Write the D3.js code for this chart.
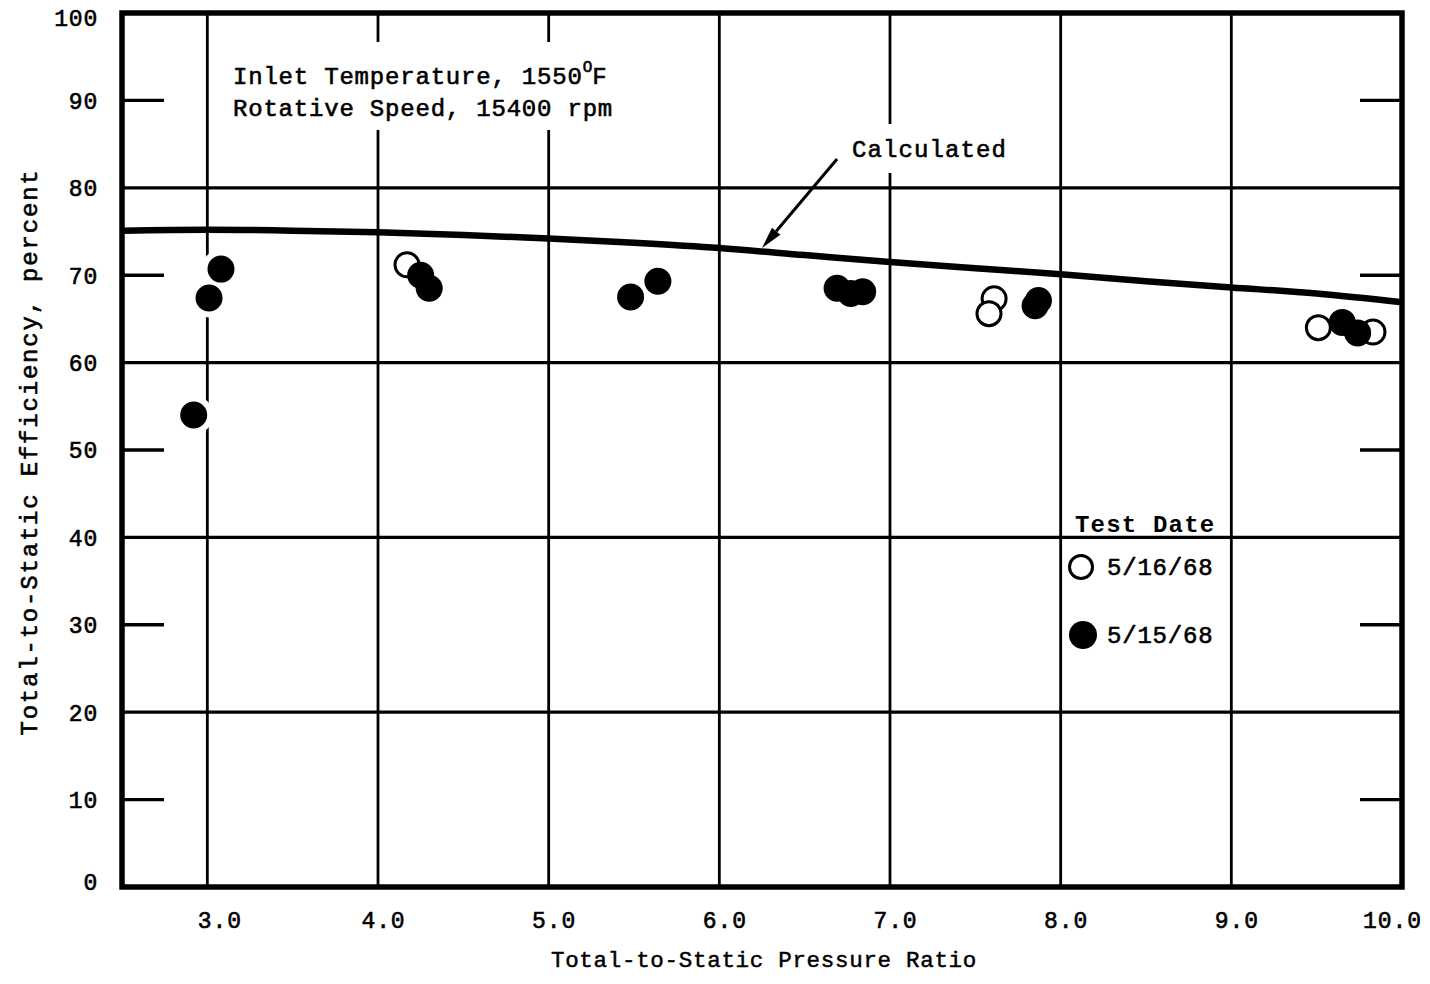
<!DOCTYPE html>
<html>
<head>
<meta charset="utf-8">
<script src="https://cdn.jsdelivr.net/npm/d3@7"></script>
<style>
  body { margin: 0; background: #fff; }
  svg { display: block; }
  text { font-family: "Liberation Mono", "DejaVu Sans Mono", monospace; fill: #000; }
</style>
</head>
<body>
<svg id="chart" width="1430" height="984"></svg>
<script>
// Calculated total-to-static efficiency curve
const calcRatio = [2.5, 3.0, 3.5, 4.0, 4.5, 5.0, 5.5, 6.0, 6.5, 7.0, 7.5, 8.0, 8.5, 9.0, 9.5, 10.0];
const calcEff   = [75.1, 75.2, 75.1, 74.9, 74.6, 74.2, 73.7, 73.1, 72.3, 71.5, 70.8, 70.1, 69.3, 68.6, 67.9, 66.9];

// Test points, 5/16/68 (open symbols)
const openRatio = [4.17, 7.61, 7.58, 9.51, 9.83];
const openEff   = [71.2, 67.3, 65.6, 64.0, 63.5];

// Test points, 5/15/68 (solid symbols)
const solidRatio = [2.92, 3.01, 3.08, 4.25, 4.30, 5.48, 5.64, 6.69, 6.77, 6.84, 7.85, 7.87, 9.65, 9.74];
const solidEff   = [54.0, 67.4, 70.7, 70.0, 68.5, 67.5, 69.3, 68.5, 67.9, 68.1, 66.5, 67.1, 64.6, 63.4];

// Axis ticks
const xTicks = [3, 4, 5, 6, 7, 8, 9, 10];
const yTicks = [0, 10, 20, 30, 40, 50, 60, 70, 80, 90, 100];
const yRules = [20, 40, 60, 80];         // full-width rules
const yEdgeTicks = [10, 30, 50, 70, 90]; // short marks at both edges

const legendLabels = ["5/16/68", "5/15/68"];

const svg = d3.select("#chart");
const x = d3.scaleLinear().domain([2.5, 10]).range([122, 1402]);
const y = d3.scaleLinear().domain([0, 100]).range([887, 13]);
const [x0, x1] = x.range();
const [y0, y1] = y.range();

const ink = "#000";
const weight = 0.6; // thickens the typewriter-style lettering

// ---- grid ----
const grid = svg.append("g").attr("stroke", ink).attr("stroke-linecap", "butt");
grid.selectAll("line.v").data(xTicks.filter(d => d < 10)).join("line")
  .attr("class", "v")
  .attr("x1", d => x(d)).attr("x2", d => x(d))
  .attr("y1", y1).attr("y2", y0)
  .attr("stroke-width", 2.8);
grid.selectAll("line.h").data(yRules).join("line")
  .attr("class", "h")
  .attr("x1", x0).attr("x2", x1)
  .attr("y1", d => y(d)).attr("y2", d => y(d))
  .attr("stroke-width", 3.2);
grid.selectAll("line.tl").data(yEdgeTicks).join("line")
  .attr("class", "tl")
  .attr("x1", x0).attr("x2", x0 + 42)
  .attr("y1", d => y(d)).attr("y2", d => y(d))
  .attr("stroke-width", 3.4);
grid.selectAll("line.tr").data(yEdgeTicks).join("line")
  .attr("class", "tr")
  .attr("x1", x1 - 42).attr("x2", x1)
  .attr("y1", d => y(d)).attr("y2", d => y(d))
  .attr("stroke-width", 3.4);

// ---- clear space behind the notes ----
svg.append("rect").attr("x", x(3.1)).attr("y", 42).attr("width", x(5.95) - x(3.1)).attr("height", 88).attr("fill", "#fff");
svg.append("rect").attr("x", x(6.72)).attr("y", 124).attr("width", x(7.72) - x(6.72)).attr("height", 49).attr("fill", "#fff");

// ---- calculated curve ----
const calc = calcRatio.map((r, i) => [r, calcEff[i]]);
svg.append("path")
  .datum(calc)
  .attr("fill", "none")
  .attr("stroke", ink)
  .attr("stroke-width", 6.5)
  .attr("stroke-linejoin", "round")
  .attr("d", d3.line().x(d => x(d[0])).y(d => y(d[1])).curve(d3.curveMonotoneX));

// ---- test points ----
const openPts = openRatio.map((r, i) => [r, openEff[i]]);
const solidPts = solidRatio.map((r, i) => [r, solidEff[i]]);
const allPts = openPts.concat(solidPts);
const R = 13.5;

// clearance around symbols where rules pass
svg.append("g").selectAll("circle").data(allPts).join("circle")
  .attr("cx", d => x(d[0])).attr("cy", d => y(d[1]))
  .attr("r", R + 6).attr("fill", "#fff");

svg.append("g").selectAll("circle").data(openPts).join("circle")
  .attr("cx", d => x(d[0])).attr("cy", d => y(d[1]))
  .attr("r", R - 1.5).attr("fill", "#fff")
  .attr("stroke", ink).attr("stroke-width", 3);
svg.append("g").selectAll("circle").data(solidPts).join("circle")
  .attr("cx", d => x(d[0])).attr("cy", d => y(d[1]))
  .attr("r", R).attr("fill", ink);

// ---- frame ----
svg.append("rect")
  .attr("x", x0).attr("y", y1)
  .attr("width", x1 - x0).attr("height", y0 - y1)
  .attr("fill", "none").attr("stroke", ink).attr("stroke-width", 5.5);

// ---- axes ----
const xAxis = d3.axisBottom(x).tickValues(xTicks).tickFormat(d3.format(".1f")).tickSize(0).tickPadding(0);
const gx = svg.append("g").attr("transform", `translate(0,${y0})`).call(xAxis);
gx.select(".domain").remove();
gx.selectAll(".tick text")
  .attr("font-family", null)
  .attr("font-size", 23).attr("letter-spacing", 0.9)
  .attr("y", 41).attr("dy", 0)
  .attr("dx", d => d === 10 ? -10 : (d === 3 ? 12 : 5))
  .style("stroke", ink).style("stroke-width", weight);

const yAxis = d3.axisLeft(y).tickValues(yTicks).tickFormat(d3.format("d")).tickSize(0).tickPadding(24);
const gy = svg.append("g").attr("transform", `translate(${x0},0)`).call(yAxis);
gy.select(".domain").remove();
gy.selectAll(".tick text")
  .attr("font-family", null)
  .attr("font-size", 23).attr("letter-spacing", 0.8)
  .attr("dy", d => d === 100 ? "0.55em" : (d === 0 ? "0.1em" : "0.34em"))
  .style("stroke", ink).style("stroke-width", weight);

// axis titles
svg.append("text")
  .attr("x", (x0 + x1) / 2 + 2).attr("y", 967)
  .attr("text-anchor", "middle")
  .attr("font-size", 22.5).attr("letter-spacing", 0.7)
  .style("stroke", ink).style("stroke-width", weight * 0.8)
  .text("Total-to-Static Pressure Ratio");
svg.append("text")
  .attr("transform", `translate(37,${(y0 + y1) / 2 + 2}) rotate(-90)`)
  .attr("text-anchor", "middle")
  .attr("font-size", 24).attr("letter-spacing", 1.8)
  .style("stroke", ink).style("stroke-width", weight)
  .text("Total-to-Static Efficiency, percent");

// ---- operating-condition note ----
const note = svg.append("g").style("stroke", ink).style("stroke-width", weight);
const n1 = note.append("text").attr("x", 233).attr("y", 84)
  .attr("font-size", 24).attr("letter-spacing", 0.8);
n1.append("tspan").text("Inlet Temperature, 1550");
n1.append("tspan").attr("font-size", 16).attr("dy", -12).attr("letter-spacing", 0).text("O");
n1.append("tspan").attr("dy", 12).text("F");
note.append("text").attr("x", 233).attr("y", 116)
  .attr("font-size", 24).attr("letter-spacing", 0.8)
  .text("Rotative Speed, 15400 rpm");

// ---- calculated label with leader ----
svg.append("text").attr("x", 852).attr("y", 157)
  .attr("font-size", 24).attr("letter-spacing", 1.1)
  .style("stroke", ink).style("stroke-width", weight)
  .text("Calculated");

const tail = [x(6.69), y(83.3)];
const tip = [x(6.25), y(73.1)];
const ang = Math.atan2(tip[1] - tail[1], tip[0] - tail[0]);
const headLen = 22, headHalf = 5.5;
const base = [tip[0] - headLen * Math.cos(ang), tip[1] - headLen * Math.sin(ang)];
svg.append("line")
  .attr("x1", tail[0]).attr("y1", tail[1])
  .attr("x2", base[0]).attr("y2", base[1])
  .attr("stroke", ink).attr("stroke-width", 3);
svg.append("path")
  .attr("d", d3.line()([
    tip,
    [base[0] + headHalf * Math.sin(ang), base[1] - headHalf * Math.cos(ang)],
    [base[0] - headHalf * Math.sin(ang), base[1] + headHalf * Math.cos(ang)]
  ]) + "Z")
  .attr("fill", ink);

// ---- legend ----
const lg = svg.append("g");
lg.append("text").attr("x", 1075).attr("y", 532)
  .attr("font-size", 24).attr("font-weight", "bold").attr("letter-spacing", 1.2)
  .text("Test Date");
const legendY = [567, 635];
lg.append("circle").attr("cx", 1081).attr("cy", legendY[0]).attr("r", 11.5)
  .attr("fill", "#fff").attr("stroke", ink).attr("stroke-width", 3);
lg.append("circle").attr("cx", 1083).attr("cy", legendY[1]).attr("r", 14)
  .attr("fill", ink);
lg.selectAll("text.item").data(legendLabels).join("text")
  .attr("class", "item")
  .attr("x", 1107).attr("y", (d, i) => legendY[i] + 8)
  .attr("font-size", 24).attr("letter-spacing", 0.8)
  .style("stroke", ink).style("stroke-width", weight)
  .text(d => d);
</script>
</body>
</html>
